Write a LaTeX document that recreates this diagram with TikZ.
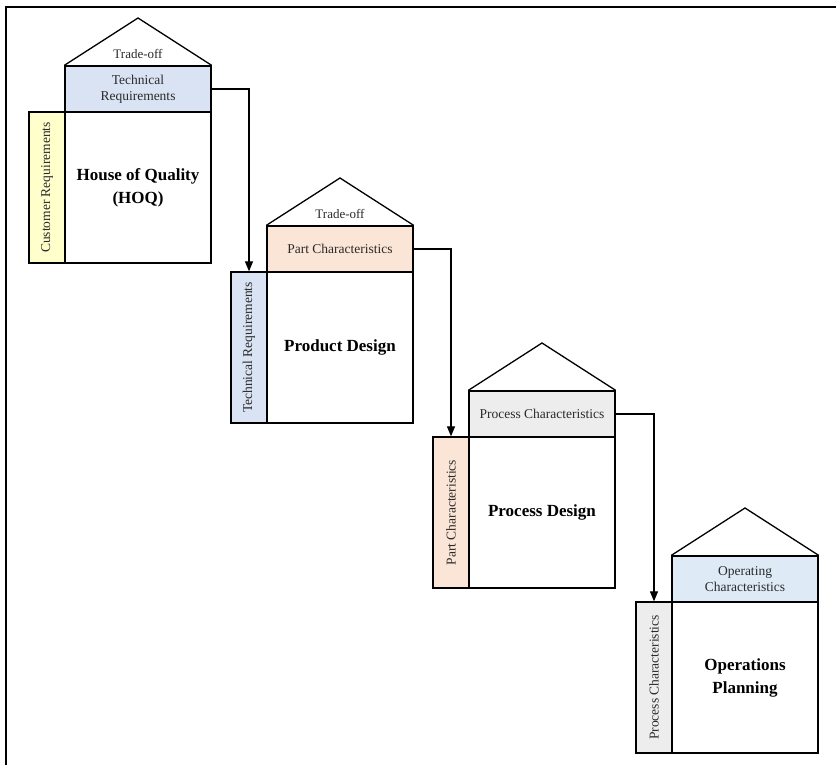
\documentclass[tikz,border=0pt]{standalone}
\usepackage{fontspec}
\setmainfont{Liberation Serif}
\usetikzlibrary{arrows.meta}
\definecolor{techblue}{HTML}{DAE3F3}
\definecolor{custyellow}{HTML}{FFFFCC}
\definecolor{partpeach}{HTML}{FBE5D6}
\definecolor{procgray}{HTML}{EDEDED}
\definecolor{opblue}{HTML}{DEEBF7}
\definecolor{txt}{HTML}{2A2A2A}
\begin{document}
\begin{tikzpicture}[x=1pt,y=-1pt,
  line width=1.3pt,
  header/.style={draw, minimum width=146pt, minimum height=46pt, inner sep=0pt,
    align=center, text=txt, font=\fontsize{13.5}{16}\selectfont},
  mainbox/.style={draw, fill=white, minimum width=146pt, minimum height=151pt, inner sep=0pt,
    align=center, font=\fontsize{17}{23}\selectfont\bfseries},
  sidebar/.style={draw, minimum width=36pt, minimum height=151pt, inner sep=0pt},
  sidetext/.style={rotate=90, text=txt, font=\fontsize{13.5}{16}\selectfont},
  rooftext/.style={text=txt, font=\fontsize{13}{15}\selectfont},
  roof/.style={draw, line join=miter},
  flow/.style={draw, -{Triangle[length=10pt,width=8pt]}, line width=1.2pt}]
\useasboundingbox (0,0) rectangle (836,765);

% outer frame (top and left edges)
\draw[line width=1.5pt] (6,765) -- (6,7) -- (836,7);

% ---- House of Quality ----
\node[header, fill=techblue] (h1) at (138,89) {Technical\\Requirements};
\node[mainbox] (m1) at (138,187.5) {House of Quality\\(HOQ)};
\node[sidebar, fill=custyellow] (s1) at (47,187.5) {};
\node[sidetext] at (s1.center) {Customer Requirements};
\coordinate (r1) at (138,18);
\draw[roof] (h1.north west) -- (r1) -- (h1.north east);
\node[rooftext] at (138,54) {Trade-off};

% ---- Product Design ----
\node[header, fill=partpeach] (h2) at (340,249) {Part Characteristics};
\node[mainbox] (m2) at (340,347.5) {Product Design};
\node[sidebar, fill=techblue] (s2) at (249,347.5) {};
\node[sidetext] at (s2.center) {Technical Requirements};
\coordinate (r2) at (340,178);
\draw[roof] (h2.north west) -- (r2) -- (h2.north east);
\node[rooftext] at (340,214) {Trade-off};

% ---- Process Design ----
\node[header, fill=procgray] (h3) at (542,414) {Process Characteristics};
\node[mainbox] (m3) at (542,512.5) {Process Design};
\node[sidebar, fill=partpeach] (s3) at (451,512.5) {};
\node[sidetext] at (s3.center) {Part Characteristics};
\coordinate (r3) at (542,343);
\draw[roof] (h3.north west) -- (r3) -- (h3.north east);

% ---- Operations Planning ----
\node[header, fill=opblue] (h4) at (745,579) {Operating\\Characteristics};
\node[mainbox] (m4) at (745,677.5) {Operations\\Planning};
\node[sidebar, fill=procgray] (s4) at (654,677.5) {};
\node[sidetext] at (s4.center) {Process Characteristics};
\coordinate (r4) at (745,508);
\draw[roof] (h4.north west) -- (r4) -- (h4.north east);

% ---- flow between houses ----
\draw[flow] (h1.east) -| (s2.north);
\draw[flow] (h2.east) -| (s3.north);
\draw[flow] (h3.east) -| (s4.north);
\end{tikzpicture}
\end{document}
